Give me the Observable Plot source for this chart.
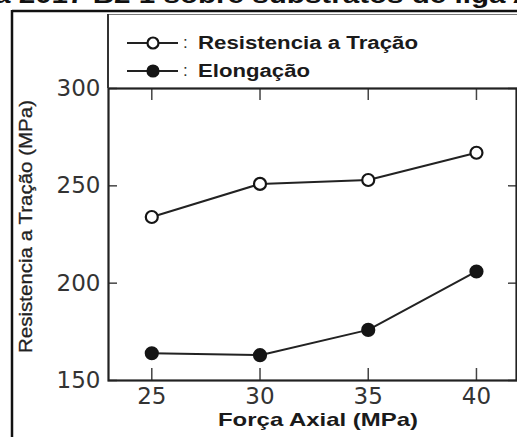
<!DOCTYPE html>
<html><head><meta charset="utf-8">
<script src="https://cdn.jsdelivr.net/npm/d3@7"></script>
<script src="https://cdn.jsdelivr.net/npm/@observablehq/plot@0.6"></script>
<style>
body{margin:0;background:#fff;}
#wrap{position:relative;width:517px;height:437px;overflow:hidden;background:#fff;}
#wrap svg.ov{position:absolute;left:0;top:0;pointer-events:none;}
#wrap > svg:first-child{position:absolute;left:0;top:0;}
</style></head><body><div id="wrap"></div>
<script>
const forca = [25, 30, 35, 40];
const resistencia = [234, 251, 253, 267];
const elongacao = [164, 163, 176, 206];
const xTicks = [25, 30, 35, 40];
const yTicks = [150, 200, 250, 300];
const seriesNames = ["Resistencia a Tração", "Elongação"];
const titleText = "a 2017 B2 1 sobre substratos de liga A";
const xLabel = "Força Axial (MPa)";
const yLabel = "Resistencia a Tração (MPa)";

const rows = forca.flatMap((f, i) => [
  {x: f, y: resistencia[i], s: seriesNames[0]},
  {x: f, y: elongacao[i], s: seriesNames[1]}
]);

const tickFont = {fontSize: 23, fill: "#333"};
const chart = Plot.plot({
  width: 517, height: 437,
  marginLeft: 108, marginRight: 1, marginTop: 88, marginBottom: 57,
  style: {fontFamily: "DejaVu Sans", background: "transparent"},
  x: {domain: [23, 41.85]},
  y: {domain: [150, 300]},
  marks: [
    Plot.axisX(xTicks, {anchor: "bottom", tickSize: -12, tickPadding: 19, stroke: "#444", strokeWidth: 1.5, label: null, ...tickFont}),
    Plot.axisX(xTicks, {anchor: "top", tickSize: -11, tickFormat: () => "", stroke: "#444", strokeWidth: 1.5, label: null}),
    Plot.axisY(yTicks, {anchor: "left", tickSize: -9, tickPadding: 17, stroke: "#444", strokeWidth: 1.5, label: null, ...tickFont}),
    Plot.axisY(yTicks, {anchor: "right", tickSize: -9, tickFormat: () => "", stroke: "#444", strokeWidth: 1.5, label: null}),
    Plot.frame({stroke: "#222", strokeWidth: 2.2}),
    Plot.line(rows, {x: "x", y: "y", z: "s", stroke: "#222", strokeWidth: 2}),
    Plot.dot(rows, {x: "x", y: "y", r: 6, stroke: "#151515", strokeWidth: 2.2,
      fill: d => d.s === seriesNames[0] ? "#fff" : "#151515"})
  ]
});
const wrap = document.getElementById("wrap");
wrap.appendChild(chart);

const ns = "http://www.w3.org/2000/svg";
const ov = d3.select(wrap).append("svg").attr("class", "ov").attr("width", 517).attr("height", 437);
// cropped title
ov.append("text").attr("x", -6).attr("y", 3).attr("font-family", "Liberation Sans").attr("font-weight", "bold")
  .attr("font-size", 24).attr("fill", "#111").attr("textLength", 540).attr("lengthAdjust", "spacingAndGlyphs").text(titleText);
// outer frame
ov.append("line").attr("x1", 12).attr("x2", 517).attr("y1", 11).attr("y2", 11).attr("stroke", "#111").attr("stroke-width", 2.5);
ov.append("line").attr("x1", 108).attr("x2", 517).attr("y1", 14.5).attr("y2", 14.5).attr("stroke", "#777").attr("stroke-width", 1.2);
ov.append("line").attr("x1", 12).attr("x2", 12).attr("y1", 10).attr("y2", 437).attr("stroke", "#111").attr("stroke-width", 2.5);
ov.append("line").attr("x1", 108).attr("x2", 108).attr("y1", 14).attr("y2", 88).attr("stroke", "#333").attr("stroke-width", 2);
// legend
const legendRows = [
  {name: seriesNames[0], y: 43, fill: "#fff", w: 220},
  {name: seriesNames[1], y: 71, fill: "#151515", w: 112}
];
legendRows.forEach(r => {
  ov.append("line").attr("x1", 127).attr("x2", 178).attr("y1", r.y).attr("y2", r.y).attr("stroke", "#222").attr("stroke-width", 2);
  ov.append("circle").attr("cx", 153).attr("cy", r.y).attr("r", 5.5).attr("fill", r.fill).attr("stroke", "#151515").attr("stroke-width", 2.2);
  ov.append("text").attr("x", 183).attr("y", r.y + 5).attr("font-family", "Liberation Sans").attr("font-size", 17).attr("fill", "#333").text(":");
  ov.append("text").attr("x", 198).attr("y", r.y + 5.5).attr("font-family", "Liberation Sans").attr("font-weight", "bold")
    .attr("font-size", 18).attr("fill", "#1a1a1a").attr("textLength", r.w).attr("lengthAdjust", "spacingAndGlyphs").text(r.name);
});
// axis labels
ov.append("text").attr("x", 218).attr("y", 426).attr("font-family", "Liberation Sans").attr("font-weight", "bold")
  .attr("font-size", 19).attr("fill", "#1a1a1a").attr("textLength", 200).attr("lengthAdjust", "spacingAndGlyphs").text(xLabel);
ov.append("text").attr("transform", "translate(32,353) rotate(-90)").attr("font-family", "Liberation Sans")
  .attr("font-size", 19).attr("fill", "#222").attr("stroke", "#222").attr("stroke-width", 0.3)
  .attr("textLength", 253).attr("lengthAdjust", "spacingAndGlyphs").text(yLabel);
</script></body></html>
